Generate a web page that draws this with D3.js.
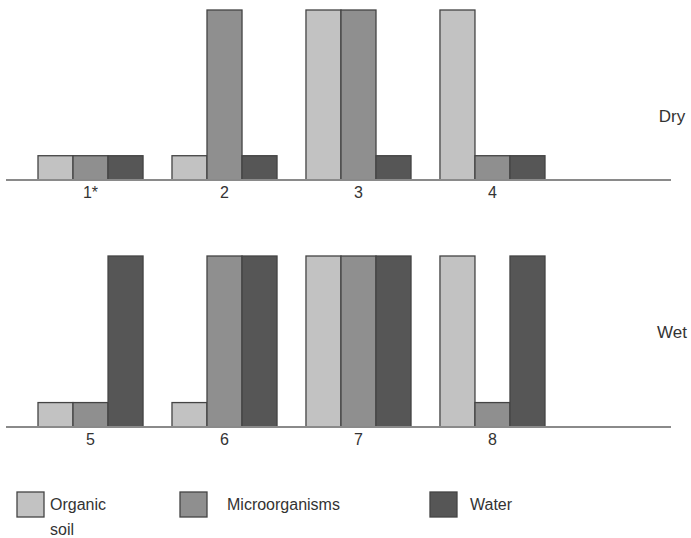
<!DOCTYPE html>
<html><head><meta charset="utf-8">
<script src="https://cdn.jsdelivr.net/npm/d3@7"></script>
<style>html,body{margin:0;padding:0;background:#fff;}svg{display:block;}text{font-family:"Liberation Sans",Arial,sans-serif;fill:#333;}</style>
</head><body>
<script>
const series = ["Organic soil", "Microorganisms", "Water"];
const seriesColors = ["#c2c2c2", "#8f8f8f", "#565656"];
const dryGroups = ["1*", "2", "3", "4"];
const wetGroups = ["5", "6", "7", "8"];
const dryOrganic = [1, 1, 7, 7];
const dryMicro = [1, 7, 7, 1];
const dryWater = [1, 1, 1, 1];
const wetOrganic = [1, 1, 7, 7];
const wetMicro = [1, 7, 7, 1];
const wetWater = [7, 7, 7, 7];
const panelLabels = ["Dry", "Wet"];

const W = 691, H = 538;
const svg = d3.select("body").append("svg").attr("width", W).attr("height", H);

const panels = [
  {groups: dryGroups, vals: [dryOrganic, dryMicro, dryWater], label: panelLabels[0], base: 180, top: 10, ly: 118},
  {groups: wetGroups, vals: [wetOrganic, wetMicro, wetWater], label: panelLabels[1], base: 427, top: 256, ly: 334}
];

panels.forEach(p => {
  const x0 = d3.scaleBand().domain(p.groups).range([38, 545]).paddingInner(0.216).paddingOuter(0);
  const x1 = d3.scaleBand().domain(series).range([0, x0.bandwidth()]).padding(0);
  const y = d3.scaleLinear().domain([0, 7]).range([p.base, p.top]);
  const g = svg.append("g");
  p.groups.forEach((grp, gi) => {
    series.forEach((s, si) => {
      const v = p.vals[si][gi];
      g.append("rect")
        .attr("x", x0(grp) + x1(s))
        .attr("y", y(v))
        .attr("width", x1.bandwidth())
        .attr("height", y(0) - y(v))
        .attr("fill", seriesColors[si])
        .attr("stroke", "#444")
        .attr("stroke-width", 1.3);
    });
  });
  g.append("line").attr("x1", 6).attr("x2", 671).attr("y1", p.base).attr("y2", p.base)
    .attr("stroke", "#8a8a8a").attr("stroke-width", 2);
  const axis = d3.axisBottom(x0).tickSize(0).tickPadding(6);
  const ag = svg.append("g").attr("transform", `translate(0,${p.base + 1})`).call(axis);
  ag.select(".domain").remove();
  ag.selectAll("text").style("font-size", "16px").attr("fill", "#333")
    .style("font-family", '"Liberation Sans",Arial,sans-serif');
  svg.append("text").attr("x", 672).attr("y", p.ly)
    .attr("text-anchor", "middle").attr("dominant-baseline", "middle")
    .style("font-size", "17px").text(p.label);
});

// legend
const legend = [
  {x: 17, lines: ["Organic", "soil"], tx: 50},
  {x: 180, lines: ["Microorganisms"], tx: 227},
  {x: 430, lines: ["Water"], tx: 470}
];
legend.forEach((l, i) => {
  svg.append("rect").attr("x", l.x).attr("y", 492).attr("width", 27).attr("height", 25)
    .attr("fill", seriesColors[i]).attr("stroke", "#444").attr("stroke-width", 1.3);
  l.lines.forEach((t, j) => {
    svg.append("text").attr("x", l.tx).attr("y", 506 + j * 25)
      .attr("dominant-baseline", "middle").style("font-size", "16px").text(t);
  });
});
</script>
</body></html>
